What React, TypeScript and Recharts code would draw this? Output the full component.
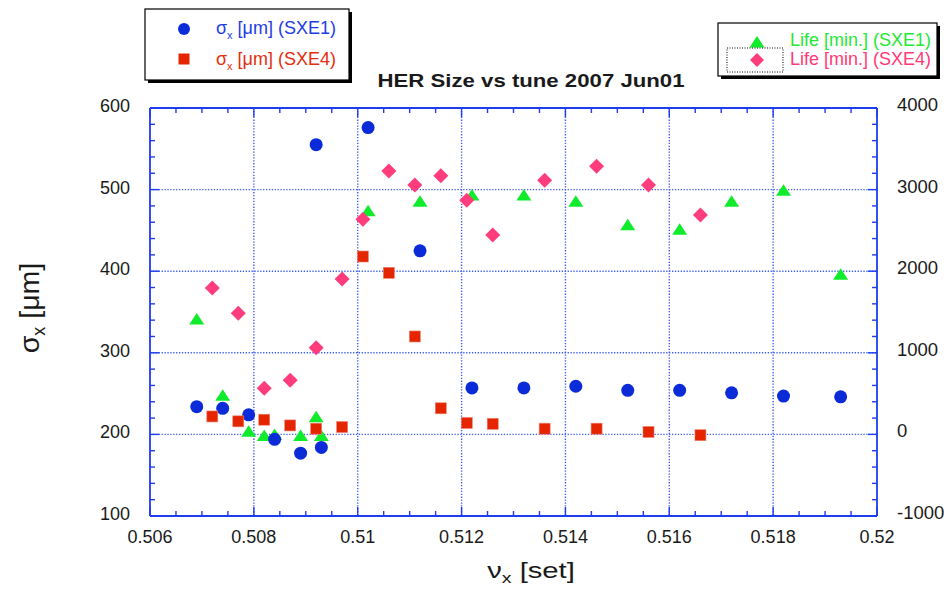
import React from 'react';
import { ScatterChart, Scatter, XAxis, YAxis, CartesianGrid } from 'recharts';

// ---------- data ----------
const sxe1SigmaTune = [0.5069, 0.5074, 0.5079, 0.5084, 0.5089, 0.5092, 0.5093, 0.5102, 0.5112, 0.5122, 0.5132, 0.5142, 0.5152, 0.5162, 0.5172, 0.5182, 0.5193];
const sxe1Sigma = [234, 232, 224, 194, 177, 555, 184, 576, 425, 257, 257, 259, 254, 254, 251, 247, 246];

const sxe4Tune = [0.5072, 0.5077, 0.5082, 0.5087, 0.5092, 0.5097, 0.5101, 0.5106, 0.5111, 0.5116, 0.5121, 0.5126, 0.5136, 0.5146, 0.5156, 0.5166];
const sxe4Sigma = [222, 216, 218, 211, 207, 209, 418, 398, 320, 232, 214, 213, 207, 207, 203, 199];
const sxe4Life = [1794, 1484, 565, 663, 1063, 1904, 2636, 3228, 3056, 3170, 2869, 2444, 3114, 3285, 3056, 2689];

const sxe1LifeTune = [0.5069, 0.5074, 0.5079, 0.5082, 0.5084, 0.5089, 0.5092, 0.5093, 0.5102, 0.5112, 0.5122, 0.5132, 0.5142, 0.5152, 0.5162, 0.5172, 0.5182, 0.5193];
const sxe1Life = [1414, 479, 38, -15, 0, -15, 217, -15, 2741, 2857, 2934, 2934, 2857, 2570, 2513, 2857, 2991, 1962];

const xMajorTicks = [0.506, 0.508, 0.51, 0.512, 0.514, 0.516, 0.518, 0.52];
const xMinorStep = 0.0005;
const leftMajorTicks = [100, 200, 300, 400, 500, 600];
const leftMinorStep = 20;
const rightMajorTicks = [-1000, 0, 1000, 2000, 3000, 4000];
const rightMinorStep = 200;

const gridX = [0.508, 0.51, 0.512, 0.514, 0.516, 0.518];
const gridY = [200, 300, 400, 500];

const titleText = 'HER Size vs tune 2007 Jun01';

// ---------- helpers ----------
const zip = (xs: number[], ys: number[]) => xs.map((x, i) => ({ x, y: ys[i] }));
const buildTicks = (majors: number[], step: number) => {
  const lo = majors[0];
  const hi = majors[majors.length - 1];
  const n = Math.round((hi - lo) / step);
  const out: number[] = [];
  for (let i = 0; i <= n; i++) out.push(Number((lo + i * step).toFixed(6)));
  return out;
};
const isIn = (v: number, arr: number[]) => arr.some((m) => Math.abs(m - v) < 1e-9);

const FONT = '"Liberation Sans", Arial, Helvetica, sans-serif';
const AXIS = '#1e3cf0';
const GRID = '#3f5cf0';
const TXT = '#1a1a1a';
const C_BLUE = '#0b2bd8';
const C_RED = '#e42500';
const C_GREEN = '#10ec2c';
const C_PINK = '#ff3c7c';

const MAJOR_LEN = 9;
const MINOR_LEN = 5;

const makeTick = (orient: 'bottom' | 'top' | 'left' | 'right', majors: number[]) => (props: any) => {
  const { x, y, payload } = props;
  const v = payload.value;
  const major = isIn(v, majors);
  const len = major ? MAJOR_LEN : MINOR_LEN;
  let line: any = null;
  let label: any = null;
  if (orient === 'bottom') {
    line = <line x1={x} y1={y} x2={x} y2={y - len} stroke={AXIS} strokeWidth={1.4} />;
    if (major)
      label = (
        <text x={x} y={y + 27} textAnchor="middle" fontSize={18} fontFamily={FONT} fill={TXT}>
          {String(v)}
        </text>
      );
  } else if (orient === 'top') {
    line = <line x1={x} y1={y} x2={x} y2={y + len} stroke={AXIS} strokeWidth={1.4} />;
  } else if (orient === 'left') {
    line = <line x1={x} y1={y} x2={x + len} y2={y} stroke={AXIS} strokeWidth={1.4} />;
    if (major)
      label = (
        <text x={x - 20} y={y + 4} textAnchor="end" fontSize={18} fontFamily={FONT} fill={TXT}>
          {String(v)}
        </text>
      );
  } else {
    line = <line x1={x} y1={y} x2={x - len} y2={y} stroke={AXIS} strokeWidth={1.4} />;
    if (major)
      label = (
        <text x={x + 20} y={y + 3} textAnchor="start" fontSize={18.5} fontFamily={FONT} fill={TXT}>
          {String(v)}
        </text>
      );
  }
  return (
    <g>
      {line}
      {label}
    </g>
  );
};

// ---------- marker shapes ----------
const CircleShape = (p: any) => <circle cx={p.cx} cy={p.cy} r={6.5} fill={C_BLUE} />;
const SquareShape = (p: any) => <rect x={p.cx - 5.5} y={p.cy - 5.5} width={11} height={11} fill={C_RED} stroke="#f08070" strokeWidth={0.6} />;
const TriangleShape = (p: any) => (
  <polygon points={`${p.cx - 7.5},${p.cy + 5.5} ${p.cx + 7.5},${p.cy + 5.5} ${p.cx},${p.cy - 6}`} fill={C_GREEN} />
);
const DiamondShape = (p: any) => (
  <polygon points={`${p.cx},${p.cy - 7.5} ${p.cx + 7.5},${p.cy} ${p.cx},${p.cy + 7.5} ${p.cx - 7.5},${p.cy}`} fill={C_PINK} />
);

// ---------- overlay (title, axis titles, legends) ----------
const Overlay = () => (
  <svg width={949} height={593} style={{ position: 'absolute', left: 0, top: 0, pointerEvents: 'none' }}>
    <g fontFamily={FONT}>
      {/* title */}
      <text x={531} y={86.5} textAnchor="middle" fontSize={18.5} fontWeight="bold" fill={TXT} textLength={307} lengthAdjust="spacingAndGlyphs">
        {titleText}
      </text>

      {/* left axis title */}
      <text transform="translate(39,308) rotate(-90)" textAnchor="middle" fontSize={28.5} fill={TXT}>
        σ<tspan fontSize={18} dy={6}>x</tspan>
        <tspan dy={-6}> [μm]</tspan>
      </text>

      {/* bottom axis title */}
      <text transform="translate(531,578) scale(1.3,1)" textAnchor="middle" fontSize={22.5} fill={TXT}>
        ν<tspan fontSize={15} dy={5}>x</tspan>
        <tspan dy={-5}> [set]</tspan>
      </text>

      {/* left legend */}
      <rect x={148} y={12} width={204} height={71} fill="#000" />
      <rect x={145} y={9} width={204} height={71} fill="#fff" stroke="#000" strokeWidth={1.2} />
      <circle cx={184} cy={29} r={6} fill={C_BLUE} />
      <text x={216} y={34} fontSize={18} fill="#1c3ce6">
        σ<tspan fontSize={11} dy={5}>x</tspan>
        <tspan dy={-5}> [μm] (SXE1)</tspan>
      </text>
      <rect x={178.5} y={53.5} width={11} height={11} fill={C_RED} />
      <text x={216} y={64.5} fontSize={18} fill="#e42e0c">
        σ<tspan fontSize={11} dy={5}>x</tspan>
        <tspan dy={-5}> [μm] (SXE4)</tspan>
      </text>

      {/* right legend */}
      <rect x={721} y={26} width={219} height={53} fill="#000" />
      <rect x={718} y={23} width={219} height={53} fill="#fff" stroke="#000" strokeWidth={1.2} />
      <polygon points="749.5,47.5 764.5,47.5 757,36" fill={C_GREEN} />
      <rect x={727} y={48} width={56} height={24} fill="none" stroke="#000" strokeWidth={1} strokeDasharray="1 1.5" />
      <polygon points="757,53 764,60 757,67 750,60" fill={C_PINK} />
      <text x={790} y={46} fontSize={18} fill="#24e834">
        Life [min.] (SXE1)
      </text>
      <text x={790} y={65} fontSize={18} fill="#ff3a76">
        Life [min.] (SXE4)
      </text>
    </g>
  </svg>
);

export default function App() {
  const xTicks = buildTicks(xMajorTicks, xMinorStep);
  const leftTicks = buildTicks(leftMajorTicks, leftMinorStep);
  const rightTicks = buildTicks(rightMajorTicks, rightMinorStep);
  const xDomain = [xMajorTicks[0], xMajorTicks[xMajorTicks.length - 1]];
  const leftDomain = [leftMajorTicks[0], leftMajorTicks[leftMajorTicks.length - 1]];
  const rightDomain = [rightMajorTicks[0], rightMajorTicks[rightMajorTicks.length - 1]];

  return (
    <div style={{ position: 'absolute', left: 0, top: 0, width: 949, height: 593, background: '#fff' }}>
      <ScatterChart width={949} height={593} margin={{ top: 88, right: 12, bottom: 47, left: 90 }}>
        <CartesianGrid
          xAxisId="bottom"
          yAxisId="left"
          horizontalValues={gridY}
          verticalValues={gridX}
          stroke={GRID}
          strokeWidth={1.4}
          strokeDasharray="1.3 1.6"
        />
        <XAxis
          xAxisId="bottom"
          type="number"
          dataKey="x"
          domain={xDomain}
          ticks={xTicks}
          interval={0}
          allowDataOverflow
          height={30}
          tickSize={0}
          tickMargin={0}
          tickLine={false}
          axisLine={{ stroke: AXIS, strokeWidth: 1.8 }}
          tick={makeTick('bottom', xMajorTicks)}
        />
        <XAxis
          xAxisId="top"
          orientation="top"
          type="number"
          dataKey="x"
          domain={xDomain}
          ticks={xTicks}
          interval={0}
          allowDataOverflow
          height={20}
          tickSize={0}
          tickMargin={0}
          tickLine={false}
          axisLine={{ stroke: AXIS, strokeWidth: 1.8 }}
          tick={makeTick('top', xMajorTicks)}
        />
        <YAxis
          yAxisId="left"
          type="number"
          dataKey="y"
          domain={leftDomain}
          ticks={leftTicks}
          interval={0}
          allowDataOverflow
          width={60}
          tickSize={0}
          tickMargin={0}
          tickLine={false}
          axisLine={{ stroke: AXIS, strokeWidth: 1.8 }}
          tick={makeTick('left', leftMajorTicks)}
        />
        <YAxis
          yAxisId="right"
          orientation="right"
          type="number"
          dataKey="y"
          domain={rightDomain}
          ticks={rightTicks}
          interval={0}
          allowDataOverflow
          width={60}
          tickSize={0}
          tickMargin={0}
          tickLine={false}
          axisLine={{ stroke: AXIS, strokeWidth: 1.8 }}
          tick={makeTick('right', rightMajorTicks)}
        />
        <Scatter name="Life SXE1" xAxisId="bottom" yAxisId="right" data={zip(sxe1LifeTune, sxe1Life)} shape={TriangleShape} isAnimationActive={false} />
        <Scatter name="Life SXE4" xAxisId="bottom" yAxisId="right" data={zip(sxe4Tune, sxe4Life)} shape={DiamondShape} isAnimationActive={false} />
        <Scatter name="sigma SXE1" xAxisId="bottom" yAxisId="left" data={zip(sxe1SigmaTune, sxe1Sigma)} shape={CircleShape} isAnimationActive={false} />
        <Scatter name="sigma SXE4" xAxisId="bottom" yAxisId="left" data={zip(sxe4Tune, sxe4Sigma)} shape={SquareShape} isAnimationActive={false} />
      </ScatterChart>
      <Overlay />
    </div>
  );
}
